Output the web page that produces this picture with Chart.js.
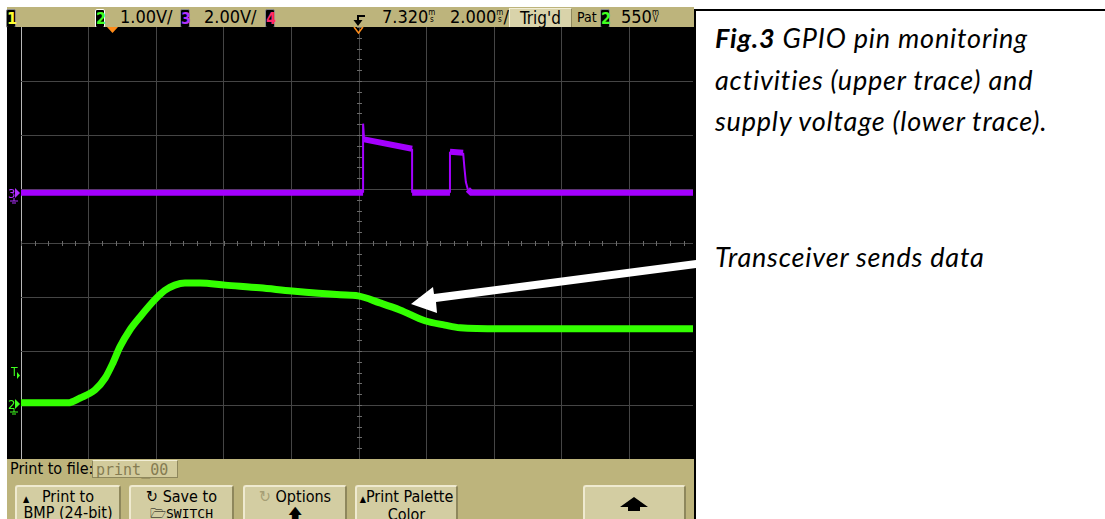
<!DOCTYPE html>
<html>
<head>
<meta charset="utf-8">
<script src="https://cdn.jsdelivr.net/npm/chart.js@4.4.1/dist/chart.umd.min.js"></script>
<style>
body { margin: 0; width: 1105px; height: 519px; background: #fff; position: relative; overflow: hidden;
       font-family: "Liberation Sans Narrow", "DejaVu Sans Condensed", "Liberation Sans", sans-serif; }
.abs { position: absolute; }
#frame { left: 7px; top: 7px; width: 687px; height: 512px; background: #bdb47c; }
#scope { left: 7px; top: 27px; width: 687px; height: 432px; background: #000; }
.chbox { position: absolute; top: 9px; width: 8px; height: 17px; background: #000; border: 1px solid #8a8a8a;
         border-radius: 2px; font-size: 16px; line-height: 17px; text-align: center; font-weight: bold; }
.lbl { position: absolute; top: 7px; font-size: 18px; line-height: 20px; color: #000; white-space: nowrap; }
.u { display: inline-block; font-size: 8px; line-height: 7px; vertical-align: top; margin-top: 2px; text-align: center; }
.u b { display: block; font-weight: normal; }
.btn { position: absolute; top: 485px; height: 40px; background: #d3cda2; border-top: 2px solid #efead0;
       border-left: 2px solid #efead0; border-right: 2px solid #8e875c; border-radius: 3px;
       font-size: 16px; line-height: 16px; text-align: center; color: #000; box-sizing: border-box; padding-top: 2px; }
.cap { position: absolute; left: 715px; font-family: Lato, "Open Sans", sans-serif; font-style: italic;
       font-size: 27px; line-height: 27px; letter-spacing: 0.8px; font-variant-ligatures: none;
       color: #000; white-space: nowrap; }
#overlay { position: absolute; left: 0; top: 0; z-index: 5; }
</style>
</head>
<body>
<div id="frame" class="abs"></div>

<!-- top status bar -->
<div class="chbox" style="left:6px;color:#ffff30">1</div>
<div class="chbox" style="left:95px;color:#40ff20;border-color:#fff">2</div>
<div class="lbl" style="left:120px">1.00V/</div>
<div class="chbox" style="left:180px;color:#b030ff">3</div>
<div class="lbl" style="left:204px">2.00V/</div>
<div class="chbox" style="left:265px;color:#ff2a6a">4</div>
<div class="lbl" style="left:382px">7.320<span class="u"><b>m</b><b>s</b></span></div>
<div class="lbl" style="left:450px">2.000<span class="u"><b>m</b><b>s</b></span>/</div>
<div class="abs" style="left:509px;top:8px;width:61px;height:18px;background:#d9d3aa;border:1px solid #8e875c;border-top-color:#f2eed6;border-left-color:#f2eed6;font-size:17px;line-height:18px;text-align:center">Trig'd</div>
<div class="lbl" style="left:577px;font-size:14px">Pat</div>
<div class="chbox" style="left:600px;color:#40ff20">2</div>
<div class="lbl" style="left:621px">550<span class="u"><b>m</b><b>V</b></span></div>

<div id="scope" class="abs">
  <canvas id="c" width="687" height="432"></canvas>
</div>

<!-- bottom soft-key area -->
<div class="lbl" style="left:10px;top:459px;font-size:16px">Print to file:</div>
<div class="abs" style="left:92px;top:460px;width:86px;height:18px;background:#d2cb9c;border:1px solid #8e875c;border-top-color:#f2eed6;font-family:'DejaVu Sans Mono',monospace;font-size:15px;line-height:18px;color:#857c52;padding-left:3px;box-sizing:border-box">print_00</div>
<div class="btn" style="left:15px;width:106px"><span style="font-size:9px;position:absolute;left:6px;top:4px">&#9650;</span>Print to<br>BMP (24-bit)</div>
<div class="btn" style="left:129px;width:105px">&#8635; Save to<br><span style="font-family:'DejaVu Sans Mono',monospace;font-size:13px">&#128449;SWITCH</span></div>
<div class="btn" style="left:243px;width:104px"><span style="color:#a59e74">&#8635;</span> Options<br><span style="font-size:14px">&#129093;</span></div>
<div class="btn" style="left:355px;width:103px"><span style="font-size:9px">&#9650;</span>Print Palette<br>Color</div>
<div class="btn" style="left:583px;width:103px"></div>

<!-- caption -->
<div class="cap" style="top:24px"><b>Fig.3</b> GPIO pin monitoring</div>
<div class="cap" style="top:66px">activities (upper trace) and</div>
<div class="cap" style="top:107px">supply voltage (lower trace).</div>
<div class="cap" style="top:243px">Transceiver sends data</div>

<svg id="overlay" width="1105" height="519">
  <line x1="694" y1="10" x2="1105" y2="10" stroke="#000" stroke-width="2"/>
  <line x1="695" y1="9" x2="695" y2="519" stroke="#000" stroke-width="2"/>
  <polygon points="107,27 118,27 112.5,33" fill="#ff8c1a"/>
  <polyline points="354,27 358.5,33 363,27" stroke="#ff8c1a" stroke-width="1.5" fill="none"/>
  <path d="M365,16 H358 V21" stroke="#000" stroke-width="2" fill="none"/>
  <polygon points="353.5,20 362.5,20 358,26" fill="#000"/>
  <text x="8" y="198" font-size="13" fill="#b030ff" font-family="DejaVu Sans Condensed, sans-serif">3</text>
  <polygon points="15,188 20,193 15,198" fill="#b030ff"/>
  <path d="M14,198 V201 M10,201 H18 M12,203 H16" stroke="#b030ff" stroke-width="1"/>
  <text x="11" y="376" font-size="12" fill="#40ff20" font-family="DejaVu Sans Condensed, sans-serif">T</text>
  <polygon points="17,372 20,375.5 17,379" fill="#40ff20"/>
  <text x="8" y="409" font-size="13" fill="#40ff20" font-family="DejaVu Sans Condensed, sans-serif">2</text>
  <polygon points="15,399 20,404 15,409" fill="#40ff20"/>
  <path d="M14,409 V412 M10,412 H18 M12,414 H16" stroke="#40ff20" stroke-width="1"/>
  <!-- annotation arrow -->
  <polygon points="696,260 434,294 433,287 411,304 437,313 436,302 696,268" fill="#fff"/>
  <!-- big soft-key arrow -->
  <polygon points="620,507 634,497 648,507 640,507 640,511 628,511 628,507" fill="#000"/>
</svg>

<script>
// time base: 2 ms/div, screen shows 0 .. 19.88 ms (right edge cropped)
const X_MAX = 19.88;
const gridTimes = [0, 2, 4, 6, 8, 10, 12, 14, 16, 18];
const gridDivs = [-3, -2, -1, 0, 1, 2, 3];

// channel 2 (green): supply voltage, 1.00 V/div, ground marker 2.98 div below centre
const CH2_VPD = 1;
const CH2_GND = -2.98;
const ch2Times = [0, 1.39, 1.75, 2.19, 2.49, 2.72, 2.93, 3.22, 3.52, 3.96, 4.25, 4.55, 4.85, 5.30, 6.04, 7.07, 8.02, 9.44, 9.97, 10.62, 11.21, 11.95, 12.54, 12.99, 14.17, 19.88];
const ch2Volts = [0.02, 0.02, 0.11, 0.26, 0.48, 0.76, 1.06, 1.37, 1.61, 1.93, 2.10, 2.20, 2.24, 2.24, 2.20, 2.15, 2.09, 2.02, 2.00, 1.87, 1.74, 1.54, 1.46, 1.41, 1.39, 1.39];

// channel 3 (purple): GPIO pin, 2.00 V/div, ground marker 0.93 div above centre
const CH3_VPD = 2;
const CH3_GND = 0.93;
const ch3Times = [0, 10.12, 10.12, 10.15, 11.57, 11.57, 12.69, 12.69, 13.08, 13.12, 13.16, 13.22, 13.32, 19.88];
const ch3Volts = [0, 0, 2.56, 1.98, 1.63, 0, 0, 1.52, 1.48, 0.9, 0.4, 0.12, 0, 0];

const toPts = (xs, ys) => xs.map((x, i) => ({ x: x, y: ys[i] }));

// thin steep edges, thick noisy flat parts
const edgeWidth = (thick, thin) => ctx =>
  Math.abs(ctx.p1.x - ctx.p0.x) < Math.abs(ctx.p1.y - ctx.p0.y) ? thin : thick;

// minor tick marks on the centre graticule lines
const centreTicks = {
  id: 'centreTicks',
  beforeDatasetsDraw(chart) {
    const ctx = chart.ctx, xs = chart.scales.x, ys = chart.scales.yg;
    const cx = Math.round(xs.getPixelForValue(10)) + 0.5;
    const cy = Math.round(ys.getPixelForValue(0)) + 0.5;
    ctx.save();
    ctx.strokeStyle = '#6a6a6a';
    ctx.lineWidth = 1;
    ctx.beginPath();
    for (let d = -4; d <= 4.001; d += 0.2) {
      const y = Math.round(ys.getPixelForValue(d)) + 0.5;
      ctx.moveTo(cx - 2.5, y); ctx.lineTo(cx + 2.5, y);
    }
    for (let t = 0; t <= X_MAX; t += 0.4) {
      const x = Math.round(xs.getPixelForValue(t)) + 0.5;
      ctx.moveTo(x, cy - 2.5); ctx.lineTo(x, cy + 2.5);
    }
    ctx.stroke();
    ctx.restore();
  }
};

new Chart(document.getElementById('c'), {
  type: 'line',
  data: {
    datasets: [
      {
        label: 'ch3',
        data: toPts(ch3Times, ch3Volts),
        yAxisID: 'y3',
        borderColor: '#a400ff',
        borderWidth: 6,
        borderCapStyle: 'butt',
        pointRadius: 0,
        tension: 0,
        segment: { borderWidth: edgeWidth(6, 2) }
      },
      {
        label: 'ch2',
        data: toPts(ch2Times, ch2Volts),
        yAxisID: 'y2',
        borderColor: '#33ff00',
        borderWidth: 7,
        pointRadius: 0,
        cubicInterpolationMode: 'monotone'
      }
    ]
  },
  options: {
    responsive: false,
    animation: false,
    events: [],
    layout: { padding: { left: 14, right: 1, top: 0, bottom: 0 } },
    plugins: { legend: { display: false }, tooltip: { enabled: false } },
    scales: {
      x: {
        type: 'linear', min: 0, max: X_MAX,
        afterBuildTicks: s => { s.ticks = gridTimes.map(v => ({ value: v })); },
        afterFit: s => { s.height = 0; },
        ticks: { display: false },
        border: { display: false },
        grid: { drawTicks: false, color: c => c.tick.value === 0 ? '#b8b8b8' : '#454545' }
      },
      yg: {
        type: 'linear', position: 'left', min: -4, max: 4,
        afterBuildTicks: s => { s.ticks = gridDivs.map(v => ({ value: v })); },
        afterFit: s => { s.width = 0; },
        ticks: { display: false },
        border: { display: false },
        grid: { drawTicks: false, color: '#454545' }
      },
      y2: {
        display: false,
        min: (-4 - CH2_GND) * CH2_VPD,
        max: (4 - CH2_GND) * CH2_VPD
      },
      y3: {
        display: false,
        min: (-4 - CH3_GND) * CH3_VPD,
        max: (4 - CH3_GND) * CH3_VPD
      }
    }
  },
  plugins: [centreTicks]
});
</script>
</body>
</html>
